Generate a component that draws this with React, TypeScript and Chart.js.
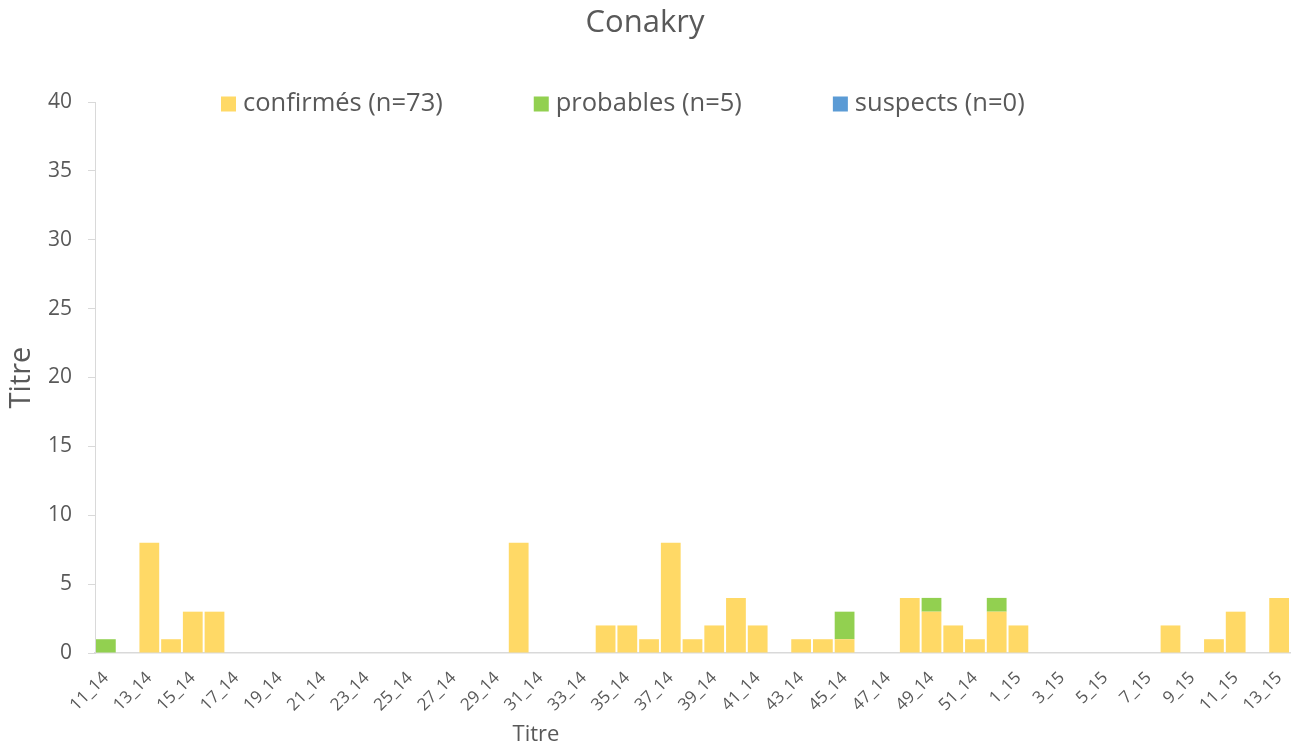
import React, { useEffect, useRef } from 'react';
import { Chart, registerables } from 'chart.js';

Chart.register(...registerables);

const chartTitle = 'Conakry';
const axisTitle = 'Titre';

const weeks = [
  '11_14', '12_14', '13_14', '14_14', '15_14', '16_14', '17_14', '18_14', '19_14', '20_14',
  '21_14', '22_14', '23_14', '24_14', '25_14', '26_14', '27_14', '28_14', '29_14', '30_14',
  '31_14', '32_14', '33_14', '34_14', '35_14', '36_14', '37_14', '38_14', '39_14', '40_14',
  '41_14', '42_14', '43_14', '44_14', '45_14', '46_14', '47_14', '48_14', '49_14', '50_14',
  '51_14', '52_14', '1_15', '2_15', '3_15', '4_15', '5_15', '6_15', '7_15', '8_15',
  '9_15', '10_15', '11_15', '12_15', '13_15',
];

const confirmes = [
  0, 0, 8, 1, 3, 3, 0, 0, 0, 0,
  0, 0, 0, 0, 0, 0, 0, 0, 0, 8,
  0, 0, 0, 2, 2, 1, 8, 1, 2, 4,
  2, 0, 1, 1, 1, 0, 0, 4, 3, 2,
  1, 3, 2, 0, 0, 0, 0, 0, 0, 2,
  0, 1, 3, 0, 4,
];

const probables = [
  1, 0, 0, 0, 0, 0, 0, 0, 0, 0,
  0, 0, 0, 0, 0, 0, 0, 0, 0, 0,
  0, 0, 0, 0, 0, 0, 0, 0, 0, 0,
  0, 0, 0, 0, 2, 0, 0, 0, 1, 0,
  0, 1, 0, 0, 0, 0, 0, 0, 0, 0,
  0, 0, 0, 0, 0,
];

const suspects = [
  0, 0, 0, 0, 0, 0, 0, 0, 0, 0,
  0, 0, 0, 0, 0, 0, 0, 0, 0, 0,
  0, 0, 0, 0, 0, 0, 0, 0, 0, 0,
  0, 0, 0, 0, 0, 0, 0, 0, 0, 0,
  0, 0, 0, 0, 0, 0, 0, 0, 0, 0,
  0, 0, 0, 0, 0,
];

const seriesLabels = ['confirmés (n=73)', 'probables (n=5)', 'suspects (n=0)'];
const seriesColors = ['#FFD966', '#92D050', '#5B9BD5'];

const yMin = 0;
const yMax = 40;
const yStep = 5;

const TEXT = '#595959';
const AXIS = '#D9D9D9';
const FONT = '"Open Sans", sans-serif';

const overlayPlugin = {
  id: 'overlay',
  afterDraw(chart: any) {
    const ctx = chart.ctx;
    ctx.save();
    // legend inside plot, top
    ctx.font = `25.5px ${FONT}`;
    ctx.textBaseline = 'middle';
    ctx.textAlign = 'left';
    let x = 221;
    const y = 104;
    chart.data.datasets.forEach((ds: any) => {
      ctx.fillStyle = ds.backgroundColor;
      ctx.fillRect(x, y - 7.5, 15, 15);
      x += 22;
      ctx.fillStyle = TEXT;
      ctx.fillText(ds.label, x, y);
      x += ctx.measureText(ds.label).width + 91;
    });
    // x axis title
    ctx.font = `22px ${FONT}`;
    ctx.textAlign = 'center';
    ctx.fillStyle = TEXT;
    ctx.fillText(axisTitle, 536, 735);
    ctx.restore();
  },
};

export default function App() {
  const canvasRef = useRef<HTMLCanvasElement | null>(null);

  useEffect(() => {
    if (!canvasRef.current) return;
    Chart.defaults.font.family = FONT;
    const datasets = [confirmes, probables, suspects].map((d, i) => ({
      label: seriesLabels[i],
      data: d,
      backgroundColor: seriesColors[i],
      borderWidth: 0,
      barPercentage: 0.91,
      categoryPercentage: 1.0,
    }));
    const chart = new Chart(canvasRef.current, {
      type: 'bar',
      data: { labels: weeks, datasets },
      plugins: [overlayPlugin],
      options: {
        animation: false,
        responsive: true,
        maintainAspectRatio: false,
        layout: { padding: { left: 0, right: 7, top: 0, bottom: 0 } },
        plugins: {
          legend: { display: false },
          tooltip: { enabled: false },
          title: {
            display: true,
            text: chartTitle,
            color: TEXT,
            font: { size: 31, weight: 'normal', family: FONT },
            padding: { top: 5, bottom: 59.8 },
          },
        },
        scales: {
          x: {
            stacked: true,
            grid: { display: false },
            border: { display: true, color: AXIS, width: 1.5 },
            ticks: {
              color: TEXT,
              font: { size: 17, family: FONT },
              autoSkip: false,
              minRotation: 45,
              maxRotation: 45,
              padding: 7,
              callback: (_v: any, i: number) => (i % 2 === 0 ? weeks[i] : ''),
            },
            afterFit: (scale: any) => {
              scale.height = 95;
              scale.paddingLeft = 0;
              scale.paddingRight = 0;
            },
          },
          y: {
            stacked: true,
            min: yMin,
            max: yMax,
            grid: {
              display: true,
              drawOnChartArea: false,
              drawTicks: true,
              tickLength: 7,
              color: AXIS,
            },
            border: { display: true, color: AXIS, width: 1 },
            ticks: {
              stepSize: yStep,
              color: TEXT,
              font: { size: 21, family: FONT },
              padding: 16,
            },
            title: {
              display: true,
              text: axisTitle,
              color: TEXT,
              font: { size: 29, family: FONT },
              padding: { top: 4, bottom: 0 },
            },
            afterFit: (scale: any) => {
              scale.width = 95;
            },
          },
        },
      },
    });
    return () => chart.destroy();
  }, []);

  return (
    <div style={{ position: 'fixed', left: 0, top: 0, width: 1297, height: 748, background: '#fff' }}>
      <canvas ref={canvasRef} />
    </div>
  );
}
